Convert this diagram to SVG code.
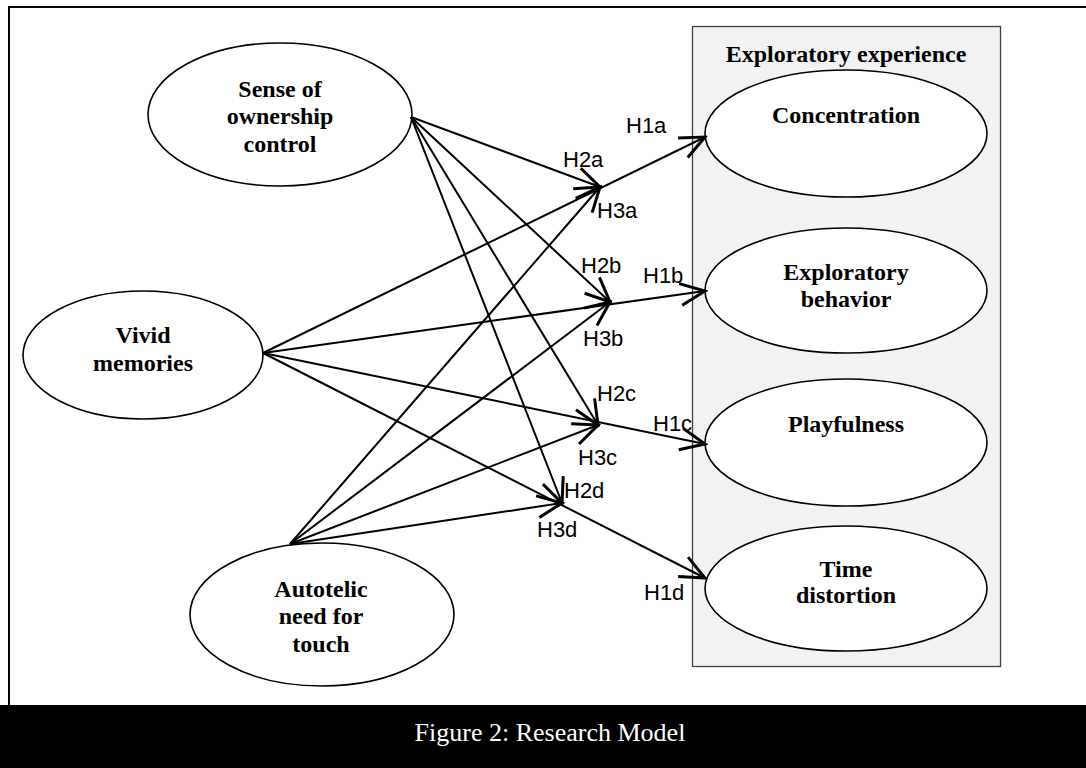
<svg xmlns="http://www.w3.org/2000/svg" width="1086" height="768" viewBox="0 0 1086 768">
<style>
.node{fill:#fff;stroke:#000;stroke-width:1.6}
.nt{font-family:"Liberation Serif","Times New Roman",serif;font-weight:bold;font-size:24px;text-anchor:middle;fill:#000}
.lbl{font-family:"Liberation Sans",Arial,sans-serif;font-size:22px;fill:#000}
.conn line{stroke:#000;stroke-width:2;fill:none;marker-end:url(#arr)}
</style>
<defs>
<marker id="arr" markerUnits="userSpaceOnUse" markerWidth="30" markerHeight="30" viewBox="-20 -10 22 20" refX="0" refY="0" orient="auto">
<path d="M -18 -8 L 0 0 L -18 8" fill="none" stroke="#000" stroke-width="2.2"/>
</marker>
</defs>
<rect width="1086" height="768" fill="#fff"/>
<path d="M 9 705 L 9 7 L 1086 7" fill="none" stroke="#000" stroke-width="2"/>
<rect x="0" y="705" width="1086" height="63" fill="#000"/>
<text x="550" y="741" font-family="Liberation Serif,Times New Roman,serif" font-size="26" fill="#fff" text-anchor="middle">Figure 2: Research Model</text>

<g id="exploratory-experience">
<rect x="692.5" y="26.5" width="308" height="640" fill="#f2f2f2" stroke="#404040" stroke-width="1.3"/>
<text x="846" y="62" class="nt" font-size="26">Exploratory experience</text>
</g>

<g id="sense">
<ellipse cx="280" cy="114.5" rx="132" ry="71.5" class="node"/>
<text class="nt" x="280" y="97">Sense of</text>
<text class="nt" x="280" y="124">ownership</text>
<text class="nt" x="280" y="152">control</text>
</g>
<g id="vivid">
<ellipse cx="143" cy="355" rx="120" ry="64" class="node"/>
<text class="nt" x="143" y="343">Vivid</text>
<text class="nt" x="143" y="371">memories</text>
</g>
<g id="autotelic">
<ellipse cx="322" cy="614.5" rx="132" ry="71.5" class="node"/>
<text class="nt" x="321" y="597">Autotelic</text>
<text class="nt" x="321" y="624">need for</text>
<text class="nt" x="321" y="652">touch</text>
</g>
<g id="concentration">
<ellipse cx="846" cy="133.5" rx="141" ry="63.5" class="node"/>
<text class="nt" x="846" y="123">Concentration</text>
</g>
<g id="exploratory-behavior">
<ellipse cx="846" cy="290.5" rx="141" ry="62.5" class="node"/>
<text class="nt" x="846" y="280">Exploratory</text>
<text class="nt" x="846" y="307">behavior</text>
</g>
<g id="playfulness">
<ellipse cx="846" cy="442.5" rx="141" ry="63.5" class="node"/>
<text class="nt" x="846" y="432">Playfulness</text>
</g>
<g id="time-distortion">
<ellipse cx="846" cy="588.5" rx="141" ry="62.5" class="node"/>
<text class="nt" x="846" y="577">Time</text>
<text class="nt" x="846" y="603">distortion</text>
</g>

<g id="connectors" class="conn">
<line x1="263" y1="353" x2="705" y2="137"/>
<line x1="263" y1="353" x2="705" y2="291"/>
<line x1="263" y1="353" x2="705" y2="444"/>
<line x1="263" y1="353" x2="705" y2="578"/>
<line x1="411" y1="117" x2="600" y2="187"/>
<line x1="411" y1="117" x2="610" y2="302"/>
<line x1="411" y1="117" x2="598" y2="425"/>
<line x1="411" y1="117" x2="562" y2="503"/>
<line x1="290" y1="544" x2="600" y2="187"/>
<line x1="290" y1="544" x2="610" y2="302"/>
<line x1="290" y1="544" x2="598" y2="425"/>
<line x1="290" y1="544" x2="562" y2="503"/>
</g>

<g id="labels">
<text class="lbl" x="626" y="133">H1a</text>
<text class="lbl" x="563" y="167">H2a</text>
<text class="lbl" x="597" y="218">H3a</text>
<text class="lbl" x="581" y="273">H2b</text>
<text class="lbl" x="643" y="283">H1b</text>
<text class="lbl" x="583" y="346">H3b</text>
<text class="lbl" x="597" y="401">H2c</text>
<text class="lbl" x="653" y="431">H1c</text>
<text class="lbl" x="578" y="465">H3c</text>
<text class="lbl" x="564" y="498">H2d</text>
<text class="lbl" x="537" y="537">H3d</text>
<text class="lbl" x="644" y="600">H1d</text>
</g>
</svg>
